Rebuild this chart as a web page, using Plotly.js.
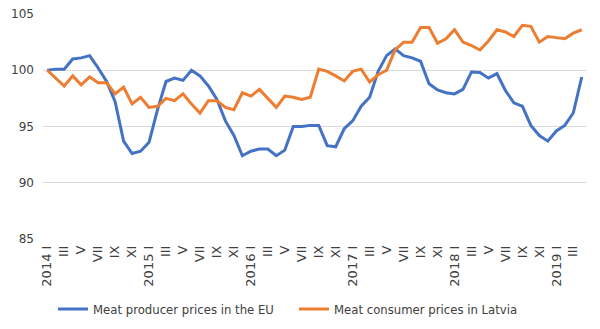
<!DOCTYPE html>
<html>
<head>
<meta charset="utf-8">
<script src="https://cdn.plot.ly/plotly-3.0.1.min.js"></script>
<style>html,body{margin:0;padding:0;background:#fff;}#chart{width:600px;height:329px;}</style>
</head>
<body>
<div id="chart"></div>
<script>
const roman = ["I","II","III","IV","V","VI","VII","VIII","IX","X","XI","XII"];
const years = [2014, 2015, 2016, 2017, 2018, 2019];
const months = [];
years.forEach(y => roman.forEach((r, m) => months.push(m === 0 ? y + " I" : r)));
const monthLabels = months.slice(0, 64);

const producerEU = [100.0,100.1,100.1,101.0,101.1,101.3,100.2,99.0,97.2,93.7,92.6,92.8,
  93.6,96.5,99.0,99.3,99.1,100.0,99.5,98.6,97.4,95.5,94.2,92.4,
  92.8,93.0,93.0,92.4,92.9,95.0,95.0,95.1,95.1,93.3,93.2,94.8,
  95.5,96.8,97.6,99.9,101.3,101.9,101.3,101.1,100.8,98.8,98.25,98.0,
  97.9,98.3,99.85,99.8,99.3,99.7,98.2,97.1,96.8,95.1,94.2,93.7,
  94.6,95.1,96.2,99.4];
const consumerLV = [100.0,99.3,98.6,99.5,98.7,99.4,98.9,98.9,97.9,98.5,97.0,97.6,
  96.7,96.8,97.5,97.3,97.9,97.0,96.2,97.3,97.3,96.7,96.5,98.0,
  97.7,98.3,97.5,96.7,97.7,97.6,97.4,97.6,100.1,99.9,99.5,99.05,
  99.9,100.1,98.95,99.6,100.0,101.8,102.5,102.5,103.8,103.8,102.4,102.8,
  103.6,102.5,102.2,101.8,102.6,103.6,103.4,103.0,104.0,103.9,102.5,103.0,
  102.9,102.8,103.3,103.6];
const seriesNames = ["Meat producer prices in the EU", "Meat consumer prices in Latvia"];

const idx = monthLabels.map((_, i) => i);
const tickIdx = idx.filter(i => i % 2 === 0);

const fam = "DejaVu Sans, Verdana, sans-serif";
const txt = "#404040";

const traces = [
  {x: idx, y: producerEU, name: seriesNames[0], type: "scatter", mode: "lines",
   line: {color: "#4472C4", width: 3}},
  {x: idx, y: consumerLV, name: seriesNames[1], type: "scatter", mode: "lines",
   line: {color: "#ED7D31", width: 3}}
];

const layout = {
  width: 600, height: 329,
  margin: {l: 43, r: 14, t: 14, b: 90},
  paper_bgcolor: "#fff", plot_bgcolor: "#fff",
  font: {family: fam, size: 12, color: txt},
  showlegend: true,
  legend: {orientation: "h", xref: "container", yref: "container",
           x: 0.0883, xanchor: "left", y: 0.061, yanchor: "middle",
           font: {family: fam, size: 11.7, color: txt}, entrywidth: 196, entrywidthmode: "pixels"},
  xaxis: {
    range: [-0.5, 63.5], tickmode: "array", tickvals: tickIdx,
    ticktext: tickIdx.map(i => monthLabels[i]), tickangle: -90,
    showgrid: false, zeroline: false, showline: false, ticks: "", automargin: false,
    ticklabelstandoff: 3,
    tickfont: {family: fam, size: 13, color: txt}
  },
  yaxis: {
    range: [85, 105], dtick: 5, tick0: 85, showgrid: true, gridcolor: "#d9d9d9",
    gridwidth: 1, zeroline: false, showline: false, ticks: "", automargin: false,
    ticklabelstandoff: 8,
    tickfont: {family: fam, size: 12, color: txt}
  }
};

Plotly.newPlot("chart", traces, layout, {displayModeBar: false, staticPlot: true});
</script>
</body>
</html>
